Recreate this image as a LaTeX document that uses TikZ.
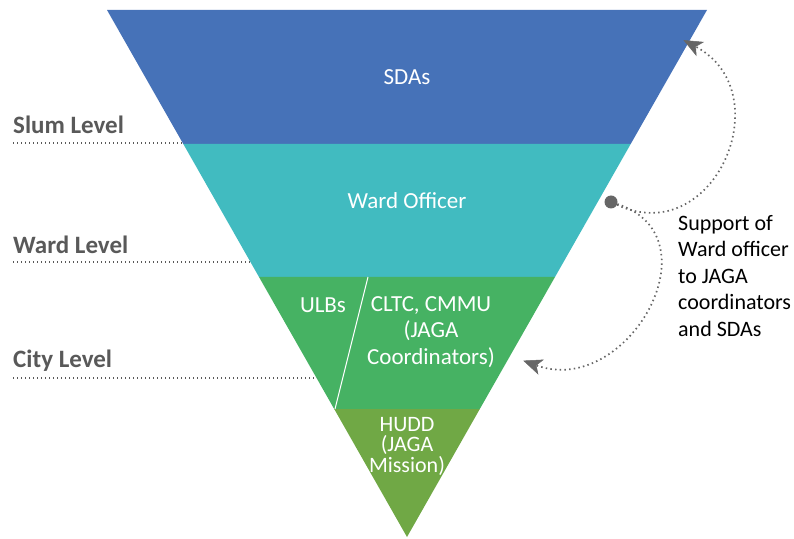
\documentclass[tikz,border=0pt]{standalone}
\usepackage{fontspec}
\setmainfont{Carlito}
\usepackage{xcolor}
\usepackage{tikz}
\usetikzlibrary{arrows.meta, positioning}
\definecolor{sdablue}{HTML}{4672B8}
\definecolor{wardteal}{HTML}{41BBC0}
\definecolor{citygreen}{HTML}{46B263}
\definecolor{huddgreen}{HTML}{70A845}
\definecolor{lvlgray}{HTML}{595959}
\definecolor{arrowgray}{HTML}{666666}
\tikzstyle{levellabel} = [font=\bfseries\fontsize{25}{28}\selectfont, text=lvlgray, anchor=base west, inner sep=0pt]
\tikzstyle{levelline} = [draw=lvlgray, line width=1.6pt, dash pattern=on 1.4pt off 2.6pt]
\tikzstyle{bandtext} = [font=\fontsize{23}{26.5}\selectfont, text=white, align=center, inner sep=0pt]
\tikzstyle{dottedarrow} = [draw=arrowgray, line width=1.7pt, dash pattern=on 1.5pt off 3.2pt, -{Stealth[length=19pt, width=16pt, inset=5pt, fill=arrowgray, line width=0.5pt, sep=-4pt]}]

\begin{document}
\begin{tikzpicture}[x=1pt, y=1pt]
            \useasboundingbox (0,0) rectangle (794,538);
            
            % Bands of the funnel
            \fill[sdablue] (107,528) -- (707,528) -- (630.7,394) -- (183.3,394) -- cycle;
            \fill[wardteal] (183.3,394) -- (630.7,394) -- (555,261) -- (259,261) -- cycle;
            \fill[citygreen] (259,261) -- (555,261) -- (479.8,129) -- (334.2,129) -- cycle;
            \fill[huddgreen] (334.2,129) -- (479.8,129) -- (407,1) -- cycle;
            \draw[white, line width=1pt] (368,261) -- (335,129);
            
            % Band texts
            \node[bandtext] (sdas) at (407,461) {SDAs};
            \node[bandtext] (ward) at (407,337) {Ward Officer};
            \node[bandtext] (ulbs) at (323,233) {ULBs};
            \node[bandtext] (cltc) at (431,206) {CLTC, CMMU\\(JAGA\\Coordinators)};
            \node[bandtext, font=\fontsize{22}{20.5}\selectfont] (hudd) at (407,92) {HUDD\\(JAGA\\Mission)};
            
            % Levels
            \node[levellabel] (slum) at (13,404) {Slum Level};
            \node[levellabel] (wardlvl) at (13,284) {Ward Level};
            \node[levellabel] (city) at (13,170) {City Level};
            \coordinate (slumend) at (183,395);
            \coordinate (wardend) at (250,276);
            \coordinate (cityend) at (317,160);
            \draw[levelline] (13,395) -- (slumend);
            \draw[levelline] (13,276) -- (wardend);
            \draw[levelline] (13,160) -- (cityend);
            
            % Support arrows
            \node[circle, fill=arrowgray, inner sep=0pt, minimum size=13pt] (hub) at (611,336) {};
            \coordinate (sdatip) at (687,496);
            \coordinate (citytip) at (527,176);
            \draw[dottedarrow] (hub) to[out=-25, in=-28, looseness=1.55] (sdatip);
            \draw[dottedarrow] (hub) to[out=-18, in=-20, looseness=1.5] (citytip);
            \node[font=\fontsize{22}{26.5}\selectfont, align=left, anchor=west, inner sep=0pt] (support) at (678,262) {Support of\\Ward officer\\to JAGA\\coordinators\\and SDAs};
        \end{tikzpicture}
\end{document}
